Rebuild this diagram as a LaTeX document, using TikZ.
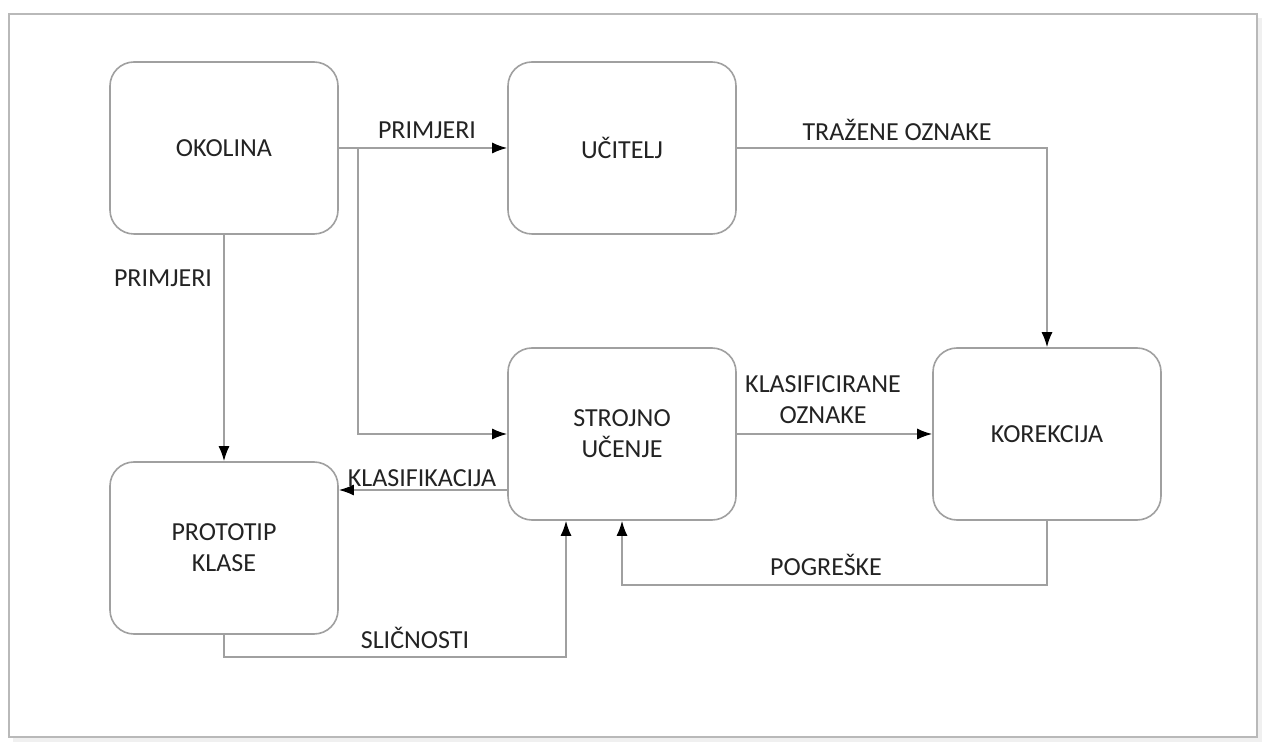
\documentclass[tikz,border=0pt]{standalone}
\usepackage{fontspec}
\setmainfont{Carlito}
\usepackage{tikz}
\usetikzlibrary{arrows.meta}
\usetikzlibrary{calc}

\definecolor{linegray}{RGB}{160,160,160}
\definecolor{textdark}{RGB}{35,35,35}

\begin{document}
\begin{tikzpicture}[x=0.5pt,y=-0.5pt,
    box/.style={draw=linegray, line width=0.8pt, rounded corners=12pt, fill=white,
      minimum width=114pt, minimum height=86pt, align=center, text=textdark},
    lbl/.style={text=textdark, align=center, inner sep=1pt},
    arr/.style={draw=linegray, line width=0.8pt, -{Latex[length=7.5pt,width=5.5pt,color=black]}},
    font=\fontsize{13}{15.5}\selectfont]
    \useasboundingbox (0,0) rectangle (1262,742);
    % frame
    \fill[gray!12] (13,18) rectangle (1262,742);
    \filldraw[fill=white, draw=gray!55, line width=1pt] (9,14) rectangle (1257,737);

    \node[box] (okolina) at (224,148) {OKOLINA};
    \node[box] (ucitelj) at (622,148) {UČITELJ};
    \node[box] (strojno) at (622,434) {STROJNO\\UČENJE};
    \node[box] (korekcija) at (1047,434) {KOREKCIJA};
    \node[box] (prototip) at (224,548) {PROTOTIP\\KLASE};

    \coordinate (split) at (358,148);
    \coordinate (klas) at (508,490);

    \path [arr] (okolina) edge (ucitelj);
    \path [arr] (okolina) edge (prototip);
    \path [arr] (strojno) edge (korekcija);
    \draw [arr] (split) |- (strojno.west);
    \draw [arr] (ucitelj.east) -| (korekcija.north);
    \draw [arr] (klas) -- (klas -| prototip.east);
    \draw [arr] (korekcija.south) -- ++(0,64) -| (strojno.south);
    \draw [arr] (prototip.south) -- ++(0,22) -| ([xshift=-28pt]strojno.south);

    \node[lbl] (l1) at (427,130) {PRIMJERI};
    \node[lbl] (l2) at (163,278) {PRIMJERI};
    \node[lbl] (l3) at (897,130) {TRAŽENE OZNAKE};
    \node[lbl] (l4) at (823,400) {KLASIFICIRANE\\OZNAKE};
    \node[lbl] (l5) at (422,478) {KLASIFIKACIJA};
    \node[lbl] (l6) at (826,565) {POGREŠKE};
    \node[lbl] (l7) at (415,638) {SLIČNOSTI};
\end{tikzpicture}
\end{document}
